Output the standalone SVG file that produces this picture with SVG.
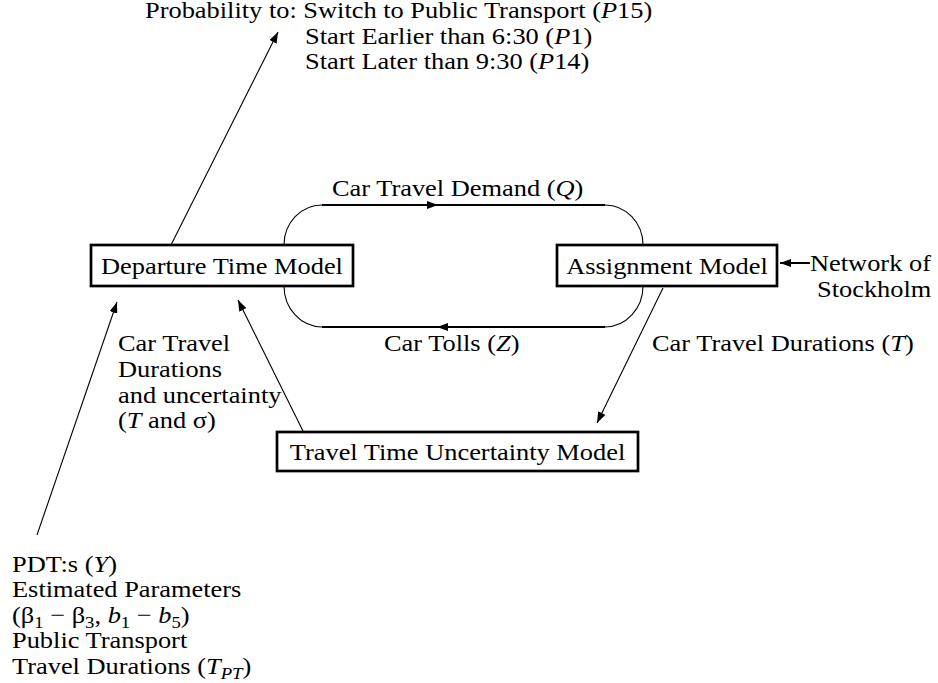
<svg xmlns="http://www.w3.org/2000/svg" width="938" height="683" viewBox="0 0 938 683">
<style>
.t { font-family: "Liberation Serif", "Times New Roman", serif; font-size: 24px; fill: #000; }
.i { font-style: italic; }
.box { fill: #fff; stroke: #000; stroke-width: 2.7; }
.thin { fill: none; stroke: #000; stroke-width: 1.1; }
.thick { fill: none; stroke: #000; stroke-width: 2; }
.ah { fill: #000; stroke: none; }
</style>
<defs>
<marker id="arr" viewBox="0 0 11 8" markerUnits="userSpaceOnUse" markerWidth="11" markerHeight="8" refX="11" refY="4" orient="auto">
<path d="M0,0 L11,4 L0,8 z" fill="#000"/>
</marker>
</defs>
<rect width="938" height="683" fill="#fff"/>

<g id="connectors">
<path class="thin" d="M284,245 A38,40 0 0 1 322,205"/>
<path class="thick" d="M322,205 L605,205"/>
<path class="thin" d="M605,205 A38,40 0 0 1 643,245"/>
<polygon class="ah" points="438,205 427,201 427,209"/>
<text class="t" transform="translate(332,196) scale(1.1,1)">Car Travel Demand (<tspan class="i">Q</tspan>)</text>
<path class="thin" d="M643,286 A38,41 0 0 1 605,327"/>
<path class="thick" d="M605,327 L322,327"/>
<path class="thin" d="M322,327 A38,41 0 0 1 284,286"/>
<polygon class="ah" points="437,327 448,323 448,331"/>
<text class="t" transform="translate(384,351) scale(1.1,1)">Car Tolls (<tspan class="i">Z</tspan>)</text>
<line class="thin" x1="171" y1="245" x2="278" y2="32" marker-end="url(#arr)"/>
<line class="thick" x1="810" y1="263" x2="780" y2="263" marker-end="url(#arr)"/>
<line class="thin" x1="663" y1="288" x2="597" y2="423" marker-end="url(#arr)"/>
<text class="t" transform="translate(652,351) scale(1.1,1)">Car Travel Durations (<tspan class="i">T</tspan>)</text>
<line class="thin" x1="303" y1="431" x2="238" y2="300" marker-end="url(#arr)"/>
<text class="t" transform="translate(118,351) scale(1.1,1)">Car Travel</text>
<text class="t" transform="translate(118,377) scale(1.1,1)">Durations</text>
<text class="t" transform="translate(118,403) scale(1.1,1)">and uncertainty</text>
<text class="t" transform="translate(118,428) scale(1.1,1)">(<tspan class="i">T</tspan> and σ)</text>
<line class="thin" x1="37" y1="535" x2="117" y2="302" marker-end="url(#arr)"/>
</g>

<g id="departure">
<rect class="box" x="91" y="245" width="262" height="41"/>
<text class="t" text-anchor="middle" transform="translate(222,274) scale(1.1,1)">Departure Time Model</text>
</g>

<g id="assignment">
<rect class="box" x="557" y="245" width="220" height="41"/>
<text class="t" text-anchor="middle" transform="translate(667,274) scale(1.1,1)">Assignment Model</text>
</g>

<g id="uncertainty">
<rect class="box" x="277" y="432" width="361" height="39"/>
<text class="t" text-anchor="middle" transform="translate(457.5,460) scale(1.1,1)">Travel Time Uncertainty Model</text>
</g>

<g id="probabilities">
<text class="t" transform="translate(145,18) scale(1.1,1)">Probability to: Switch to Public Transport (<tspan class="i">P</tspan>15)</text>
<text class="t" transform="translate(305,44) scale(1.1,1)">Start Earlier than 6:30 (<tspan class="i">P</tspan>1)</text>
<text class="t" transform="translate(305,69) scale(1.1,1)">Start Later than 9:30 (<tspan class="i">P</tspan>14)</text>
</g>

<g id="network">
<text class="t" transform="translate(810,271) scale(1.1,1)">Network of</text>
<text class="t" transform="translate(817,297) scale(1.1,1)">Stockholm</text>
</g>

<g id="inputs">
<text class="t" transform="translate(12,572) scale(1.1,1)">PDT:s (<tspan class="i">Y</tspan>)</text>
<text class="t" transform="translate(12,597) scale(1.1,1)">Estimated Parameters</text>
<text class="t" transform="translate(12,623) scale(1.1,1)">(β<tspan font-size="17" dy="5">1</tspan><tspan dy="-5"> − β</tspan><tspan font-size="17" dy="5">3</tspan><tspan dy="-5">, </tspan><tspan class="i">b</tspan><tspan font-size="17" dy="5">1</tspan><tspan dy="-5"> − </tspan><tspan class="i">b</tspan><tspan font-size="17" dy="5">5</tspan><tspan dy="-5">)</tspan></text>
<text class="t" transform="translate(12,648) scale(1.1,1)">Public Transport</text>
<text class="t" transform="translate(12,674) scale(1.1,1)">Travel Durations (<tspan class="i">T</tspan><tspan class="i" font-size="17" dy="5">PT</tspan><tspan dy="-5">)</tspan></text>
</g>
</svg>
